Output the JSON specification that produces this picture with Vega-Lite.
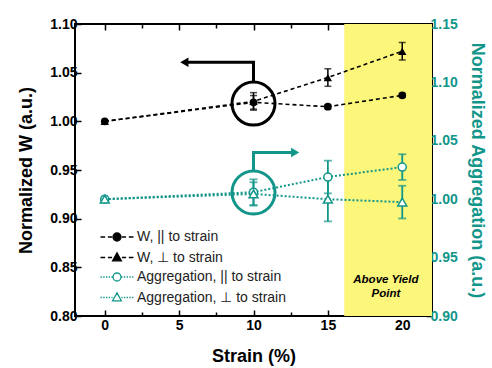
{
  "$schema": "https://vega.github.io/schema/vega-lite/v6.json",
  "width": 357,
  "height": 292,
  "autosize": "none",
  "padding": {"left": 75, "top": 24, "right": 60, "bottom": 52},
  "config": {
    "view": {"stroke": "black", "strokeWidth": 2},
    "font": "Liberation Sans",
    "axis": {
      "domain": false, "grid": false,
      "labelFont": "Liberation Sans", "labelFontWeight": "bold", "labelFontSize": 14, "labelColor": "black",
      "titleFont": "Liberation Sans", "titleFontWeight": "bold", "titleFontSize": 18, "titleColor": "black",
      "tickColor": "black", "tickWidth": 1.5
    }
  },
  "datasets": {
    "w": [
      {"series": "par", "strain": 0, "value": 1.0, "err": 0},
      {"series": "par", "strain": 10, "value": 1.0195, "err": 0.007},
      {"series": "par", "strain": 15, "value": 1.015, "err": 0.002},
      {"series": "par", "strain": 20, "value": 1.0267, "err": 0.002},
      {"series": "perp", "strain": 0, "value": 1.0, "err": 0},
      {"series": "perp", "strain": 10, "value": 1.0205, "err": 0.009},
      {"series": "perp", "strain": 15, "value": 1.045, "err": 0.009},
      {"series": "perp", "strain": 20, "value": 1.072, "err": 0.009}
    ],
    "agg": [
      {"series": "par", "strain": 0, "value": 1.0, "err": 0},
      {"series": "par", "strain": 10, "value": 1.006, "err": 0.011},
      {"series": "par", "strain": 15, "value": 1.019, "err": 0.014},
      {"series": "par", "strain": 20, "value": 1.0275, "err": 0.011},
      {"series": "perp", "strain": 0, "value": 1.0, "err": 0},
      {"series": "perp", "strain": 10, "value": 1.0045, "err": 0.01},
      {"series": "perp", "strain": 15, "value": 1.0, "err": 0.019},
      {"series": "perp", "strain": 20, "value": 0.9975, "err": 0.014}
    ],
    "one": [{}],
    "legend": [
      {"label": "W, || to strain"},
      {"label": "W, \u22a5 to strain"},
      {"label": "Aggregation, || to strain"},
      {"label": "Aggregation, \u22a5 to strain"}
    ]
  },
  "layer": [
    {
      "layer": [
        {
          "data": {"name": "one"},
          "mark": {"type": "rect", "color": "#fcf67b"},
          "encoding": {
            "x": {"datum": 16.1, "type": "quantitative"},
            "x2": {"datum": 22},
            "y": {"datum": 0.8, "type": "quantitative"},
            "y2": {"datum": 1.1}
          }
        },
        {
          "encoding": {
            "x": {"field": "strain", "type": "quantitative", "scale": {"domain": [-2, 22], "nice": false, "zero": false},
              "axis": {"orient": "bottom", "title": "Strain (%)", "values": [0, 2.5, 5, 7.5, 10, 12.5, 15, 17.5, 20],
                "labelExpr": "datum.value % 5 == 0 ? datum.label : ''",
                "tickSize": {"condition": {"test": "datum.value % 5 != 0", "value": -4}, "value": -6},
                "labelPadding": 8, "titlePadding": 15}},
            "y": {"field": "value", "type": "quantitative", "scale": {"domain": [0.8, 1.1], "nice": false, "zero": false},
              "axis": {"orient": "left", "title": "Normalized W (a.u.)",
                "values": [0.8, 0.825, 0.85, 0.875, 0.9, 0.925, 0.95, 0.975, 1, 1.025, 1.05, 1.075, 1.1],
                "labelExpr": "round(datum.value*40)%2==1 ? '' : format(datum.value,'.2f')",
                "tickSize": {"condition": {"test": "round(datum.value*40)%2==1", "value": -4}, "value": -6},
                "labelPadding": 4, "titlePadding": 14}}
          },
          "layer": [
            {
              "data": {"name": "w"},
              "mark": {"type": "line", "color": "black", "strokeWidth": 1.6, "strokeDash": [4, 3]},
              "encoding": {"detail": {"field": "series"}}
            },
            {
              "data": {"name": "w"},
              "transform": [{"filter": "datum.err > 0"}],
              "mark": {"type": "errorbar", "color": "black", "thickness": 1.5, "ticks": {"size": 7, "thickness": 1.5}},
              "encoding": {"yError": {"field": "err"}}
            },
            {
              "data": {"name": "w"},
              "transform": [{"filter": "datum.series == 'par'"}],
              "mark": {"type": "point", "shape": "circle", "filled": true, "color": "black", "opacity": 1, "size": 60}
            },
            {
              "data": {"name": "w"},
              "transform": [{"filter": "datum.series == 'perp'"}],
              "mark": {"type": "point", "shape": "triangle-up", "filled": true, "color": "black", "opacity": 1, "size": 70}
            }
          ]
        },
        {
          "data": {"name": "one"},
          "mark": {"type": "point", "shape": "circle", "filled": false, "color": "black", "opacity": 1, "strokeWidth": 3, "size": 1849},
          "encoding": {
            "x": {"datum": 10, "type": "quantitative"},
            "y": {"datum": 1.0182, "type": "quantitative"}
          }
        },
        {
          "data": {"name": "one"},
          "mark": {"type": "rule", "color": "black", "strokeWidth": 3},
          "encoding": {
            "x": {"datum": 10, "type": "quantitative"},
            "y": {"datum": 1.0405, "type": "quantitative"},
            "y2": {"datum": 1.0608}
          }
        },
        {
          "data": {"name": "one"},
          "mark": {"type": "rule", "color": "black", "strokeWidth": 3},
          "encoding": {
            "x": {"datum": 5.4, "type": "quantitative"},
            "x2": {"datum": 10.1},
            "y": {"datum": 1.0608, "type": "quantitative"}
          }
        },
        {
          "data": {"name": "one"},
          "mark": {"type": "point", "shape": "triangle-left", "filled": true, "color": "black", "opacity": 1, "size": 90},
          "encoding": {
            "x": {"datum": 5.35, "type": "quantitative"},
            "y": {"datum": 1.0608, "type": "quantitative"}
          }
        },
        {
          "data": {"name": "one"},
          "mark": {"type": "point", "shape": "circle", "filled": false, "color": "#12968a", "opacity": 1, "strokeWidth": 3, "size": 1849},
          "encoding": {
            "x": {"datum": 10, "type": "quantitative"},
            "y": {"datum": 0.9269, "type": "quantitative"}
          }
        },
        {
          "data": {"name": "one"},
          "mark": {"type": "rule", "color": "#12968a", "strokeWidth": 3},
          "encoding": {
            "x": {"datum": 10, "type": "quantitative"},
            "y": {"datum": 0.9489, "type": "quantitative"},
            "y2": {"datum": 0.9679}
          }
        },
        {
          "data": {"name": "one"},
          "mark": {"type": "rule", "color": "#12968a", "strokeWidth": 3},
          "encoding": {
            "x": {"datum": 9.9, "type": "quantitative"},
            "x2": {"datum": 12.8},
            "y": {"datum": 0.9679, "type": "quantitative"}
          }
        },
        {
          "data": {"name": "one"},
          "mark": {"type": "point", "shape": "triangle-right", "filled": true, "color": "#12968a", "opacity": 1, "size": 90},
          "encoding": {
            "x": {"datum": 12.8, "type": "quantitative"},
            "y": {"datum": 0.9679, "type": "quantitative"}
          }
        },
        {
          "data": {"name": "one"},
          "mark": {"type": "text", "text": "Above Yield\nPoint", "lineBreak": "\n", "lineHeight": 14, "font": "Liberation Sans", "fontSize": 11.5, "fontWeight": "bold", "fontStyle": "italic", "color": "black", "align": "center", "baseline": "middle"},
          "encoding": {
            "x": {"datum": 18.9, "type": "quantitative"},
            "y": {"datum": 0.8366, "type": "quantitative"}
          }
        },
        {
          "data": {"name": "legend"},
          "mark": {"type": "point", "clip": true, "opacity": 1, "strokeWidth": 1.3, "size": 121},
          "encoding": {
            "x": {"datum": -50, "type": "quantitative"},
            "y": {"datum": 0.5, "type": "quantitative"},
            "shape": {"field": "label", "type": "nominal",
              "scale": {"domain": ["W, || to strain", "W, \u22a5 to strain", "Aggregation, || to strain", "Aggregation, \u22a5 to strain"],
                "range": [
                  "M-3,0H-2.15M-1.65,0H-0.9M0.9,0H1.65M2.15,0H3M0.73,0A0.73,0.73,0,1,1,-0.73,0A0.73,0.73,0,1,1,0.73,0Z",
                  "M-3,0H-2.15M-1.65,0H-0.9M0.9,0H1.65M2.15,0H3M0,-0.85L0.8,0.6L-0.8,0.6Z",
                  "M-3,0H-2.75M-2.5,0H-2.25M-2,0H-1.75M-1.5,0H-1.25M-1,0H-0.8M0.8,0H1M1.25,0H1.5M1.75,0H2M2.25,0H2.5M2.75,0H3M0.73,0A0.73,0.73,0,1,1,-0.73,0A0.73,0.73,0,1,1,0.73,0Z",
                  "M-3,0H-2.75M-2.5,0H-2.25M-2,0H-1.75M-1.5,0H-1.25M-1,0H-0.8M0.8,0H1M1.25,0H1.5M1.75,0H2M2.25,0H2.5M2.75,0H3M0,-0.85L0.8,0.6L-0.8,0.6Z"
                ]},
              "legend": {"orient": "none", "legendX": 35, "legendY": 206, "title": null, "padding": 0,
                "labelFont": "Liberation Sans", "labelFontSize": 14, "labelColor": "#222", "labelOffset": 13,
                "symbolSize": 121, "symbolStrokeWidth": 1.3, "symbolOpacity": 1, "rowPadding": 5.5}},
            "fill": {"field": "label", "type": "nominal",
              "scale": {"domain": ["W, || to strain", "W, \u22a5 to strain", "Aggregation, || to strain", "Aggregation, \u22a5 to strain"],
                "range": ["black", "black", "white", "white"]}},
            "stroke": {"field": "label", "type": "nominal",
              "scale": {"domain": ["W, || to strain", "W, \u22a5 to strain", "Aggregation, || to strain", "Aggregation, \u22a5 to strain"],
                "range": ["black", "black", "#12968a", "#12968a"]}}
          }
        }
      ]
    },
    {
      "encoding": {
        "x": {"field": "strain", "type": "quantitative", "scale": {"domain": [-2, 22], "nice": false, "zero": false},
          "axis": {"orient": "top", "title": null, "labels": false, "values": [0, 2.5, 5, 7.5, 10, 12.5, 15, 17.5, 20],
            "tickSize": {"condition": {"test": "datum.value % 5 != 0", "value": -4}, "value": -6}}},
        "y": {"field": "value", "type": "quantitative", "scale": {"domain": [0.9, 1.15], "nice": false, "zero": false},
          "axis": {"orient": "right", "title": "Normalized Aggregation (a.u.)",
            "values": [0.9, 0.925, 0.95, 0.975, 1, 1.025, 1.05, 1.075, 1.1, 1.125, 1.15],
            "labelExpr": "round(datum.value*40)%2==1 ? '' : format(datum.value,'.2f')",
            "tickSize": {"condition": {"test": "round(datum.value*40)%2==1", "value": -4}, "value": -6},
            "labelColor": "#12968a", "titleColor": "#12968a", "labelPadding": 4, "titlePadding": 10}}
      },
      "layer": [
        {
          "data": {"name": "agg"},
          "mark": {"type": "line", "color": "#12968a", "strokeWidth": 2, "strokeDash": [2, 2]},
          "encoding": {"detail": {"field": "series"}}
        },
        {
          "data": {"name": "agg"},
          "transform": [{"filter": "datum.err > 0"}],
          "mark": {"type": "errorbar", "color": "#12968a", "thickness": 1.8, "ticks": {"size": 8, "thickness": 1.8}},
          "encoding": {"yError": {"field": "err"}}
        },
        {
          "data": {"name": "agg"},
          "transform": [{"filter": "datum.series == 'par'"}],
          "mark": {"type": "point", "shape": "circle", "filled": true, "fill": "white", "stroke": "#12968a", "strokeWidth": 1.5, "opacity": 1, "size": 65}
        },
        {
          "data": {"name": "agg"},
          "transform": [{"filter": "datum.series == 'perp'"}],
          "mark": {"type": "point", "shape": "triangle-up", "filled": true, "fill": "white", "stroke": "#12968a", "strokeWidth": 1.5, "opacity": 1, "size": 80}
        }
      ]
    }
  ],
  "resolve": {"scale": {"y": "independent"}}
}
